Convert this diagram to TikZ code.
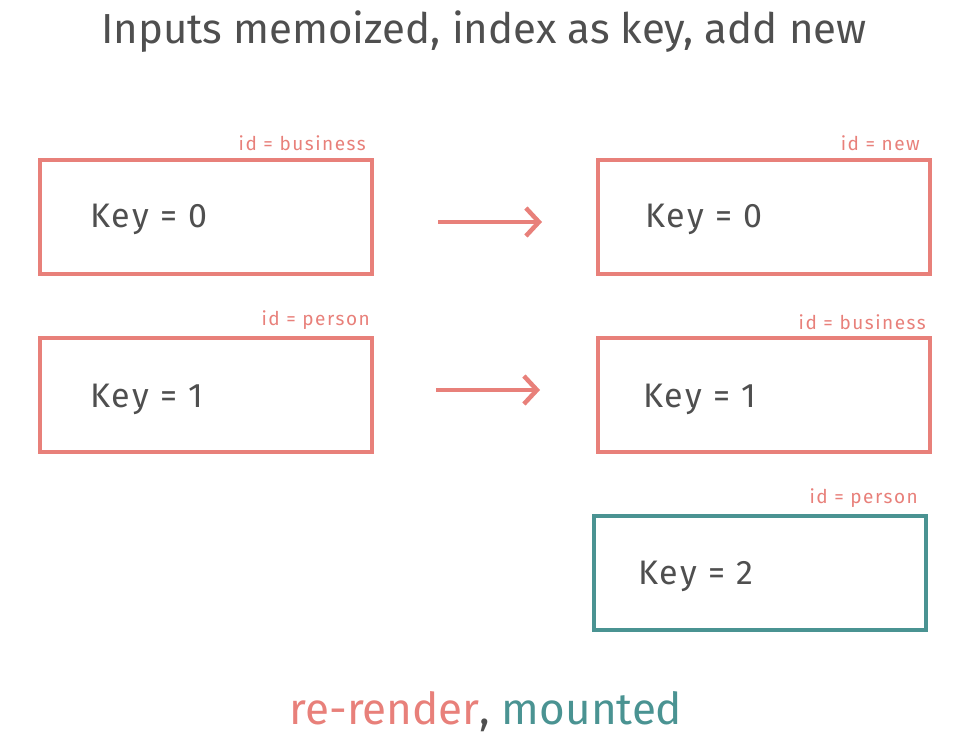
\documentclass[tikz,border=0pt]{standalone}
\usepackage{fontspec}
\setmainfont{Fira Sans}
\usetikzlibrary{arrows.meta}
\definecolor{salmon}{HTML}{E8807A}
\definecolor{teal2}{HTML}{4A9392}
\definecolor{ink}{HTML}{4F4F4F}
\tikzset{
  box/.style={draw=salmon, line width=4pt, minimum width=332pt, minimum height=114pt, inner sep=0pt},
  newbox/.style={box, draw=teal2},
  keytxt/.style={anchor=west, text=ink, font=\fontsize{34}{36}\selectfont\addfontfeatures{LetterSpace=6}, inner sep=0pt},
  idtxt/.style={anchor=south east, text=salmon, font=\fontsize{19}{21}\selectfont\addfontfeatures{LetterSpace=8}, inner sep=0pt},
  arr/.style={draw=salmon, line width=4pt, -{Straight Barb[length=13pt,width=28pt,line width=4.5pt]}}
}
\begin{document}
\begin{tikzpicture}[x=1pt,y=-1pt]
\useasboundingbox (0,0) rectangle (980,752);
\node[text=ink, font=\fontsize{42}{44}\selectfont, inner sep=0pt] (title) at (484,32) {Inputs memoized, index as key, add new};

\node[box] (a1) at (206,217) {};
\node[box] (a2) at (206,395) {};
\node[box] (b1) at (764,217) {};
\node[box] (b2) at (764,395) {};
\node[newbox] (b3) at (760,573) {};

\node[keytxt] (ka1) at (90,219) {Key = 0};
\node[keytxt] (ka2) at (90,399) {Key = 1};
\node[keytxt] (kb1) at (645,219) {Key = 0};
\node[keytxt] (kb2) at (643,399) {Key = 1};
\node[keytxt] (kb3) at (638,576) {Key = 2};

\node[idtxt] (ia1) at (366,151) {id = business};
\node[idtxt] (ia2) at (370,330) {id = person};
\node[idtxt] (ib1) at (920,151) {id = new};
\node[idtxt] (ib2) at (926,330) {id = business};
\node[idtxt] (ib3) at (918,508) {id = person};

\draw[arr, shorten <=64pt, shorten >=54pt] ([yshift=-5pt]a1.east) -- ([yshift=-5pt]b1.west);
\draw[arr, shorten <=62pt, shorten >=56pt] ([yshift=5pt]a2.east) -- ([yshift=5pt]b2.west);

\node[font=\fontsize{44}{46}\selectfont, inner sep=0pt] (legend) at (486,712) {\textcolor{salmon}{re-render}\textcolor{ink}{,} \textcolor{teal2}{mounted}};
\end{tikzpicture}
\end{document}
